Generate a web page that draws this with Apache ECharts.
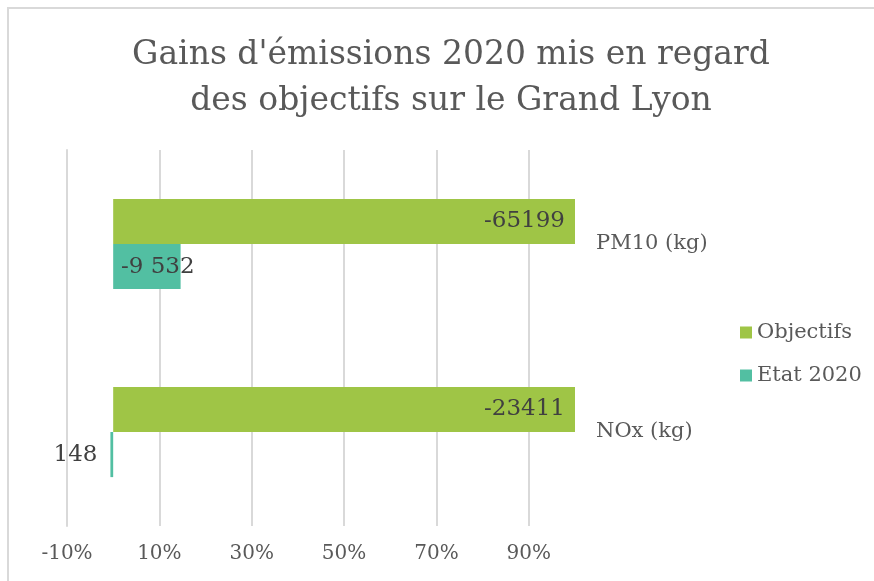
<!DOCTYPE html>
<html>
<head>
<meta charset="utf-8">
<script src="https://cdn.jsdelivr.net/npm/echarts@6/dist/echarts.min.js"></script>
<style>
  html, body { margin: 0; padding: 0; background: #fff; }
  #chart { width: 874px; height: 581px; }
</style>
</head>
<body>
<div id="chart"></div>
<script>
// categories, top to bottom
var categories = ['PM10 (kg)', 'NOx (kg)'];
// share of the objective, in %
var objectifsPct = [100, 100];
var etatPct = [14.6, -0.6];
// texts shown on the bars (kg)
var objectifsLabels = ['-65199', '-23411'];
var etatLabels = ['-9 532', '148'];

var fontFamily = '"DejaVu Serif", serif';
var chart = echarts.init(document.getElementById('chart'));

var option = {
  backgroundColor: '#fff',
  title: {
    text: "Gains d'émissions 2020 mis en regard\ndes objectifs sur le Grand Lyon",
    left: 446,
    textAlign: 'center',
    top: 27,
    textStyle: {
      fontFamily: fontFamily,
      fontWeight: 'normal',
      fontSize: 33,
      lineHeight: 46,
      color: '#595959'
    }
  },
  graphic: [{
    type: 'polyline',
    shape: { points: [[8, 600], [8, 8], [900, 8]] },
    style: { stroke: '#d9d9d9', lineWidth: 2, fill: null },
    silent: true
  }],
  legend: {
    orient: 'vertical',
    left: 735,
    top: 317,
    itemWidth: 12,
    itemHeight: 12,
    itemGap: 22,
    icon: 'rect',
    data: ['Objectifs', 'Etat 2020'],
    textStyle: { fontFamily: fontFamily, fontSize: 21, color: '#595959' }
  },
  grid: {
    left: 67,
    width: 508,
    top: 150,
    height: 376
  },
  xAxis: {
    type: 'value',
    min: -10,
    max: 100,
    interval: 20,
    axisLine: { show: false },
    axisTick: { show: false },
    axisLabel: {
      showMaxLabel: false,
      margin: 18,
      fontFamily: fontFamily,
      fontSize: 20,
      color: '#595959',
      formatter: '{value}%'
    },
    splitLine: {
      showMaxLine: false,
      lineStyle: { color: '#d9d9d9', width: 2 }
    }
  },
  yAxis: [{
    type: 'category',
    inverse: true,
    position: 'right',
    data: categories,
    axisLine: { show: false },
    axisTick: { show: false },
    axisLabel: {
      margin: 21,
      fontFamily: fontFamily,
      fontSize: 21,
      color: '#595959'
    }
  }, {
    type: 'category',
    inverse: true,
    data: categories,
    axisLine: { show: true, onZero: true, lineStyle: { color: '#d9d9d9', width: 2 } },
    axisTick: { show: false },
    axisLabel: { show: false }
  }],
  series: [{
    name: 'Objectifs',
    type: 'bar',
    yAxisIndex: 0,
    barGap: '0%',
    barCategoryGap: '52%',
    itemStyle: { color: '#9fc546' },
    data: objectifsPct,
    label: {
      show: true,
      position: 'insideRight',
      distance: 10,
      fontFamily: fontFamily,
      fontSize: 23,
      color: '#404040',
      formatter: function (p) { return objectifsLabels[p.dataIndex]; }
    }
  }, {
    name: 'Etat 2020',
    type: 'bar',
    yAxisIndex: 0,
    itemStyle: { color: '#52bfa2' },
    data: etatPct.map(function (v) {
      if (v < 0) {
        return { value: v, label: { position: 'left', distance: 13 } };
      }
      return { value: v, label: { position: 'insideRight', offset: [19, 0] } };
    }),
    label: {
      show: true,
      fontFamily: fontFamily,
      fontSize: 23,
      color: '#404040',
      formatter: function (p) { return etatLabels[p.dataIndex]; }
    }
  }]
};

chart.setOption(option);
</script>
</body>
</html>
